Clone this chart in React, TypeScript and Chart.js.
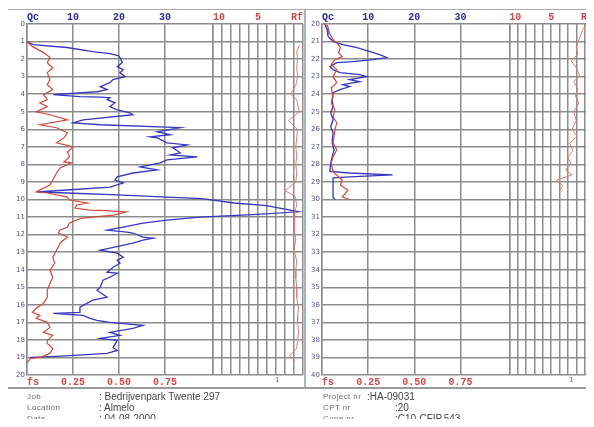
import React, { useEffect, useRef } from "react";
import { Chart, registerables } from "chart.js";
Chart.register(...registerables);

// ---------- data (depth in m, Qc in MPa, fs in MPa, Rf in %) ----------
const leftQcDepth = [1.0, 1.17, 1.34, 1.57, 1.69, 1.8, 1.91, 2.2, 2.43, 2.6, 2.77, 3.0, 3.17, 3.34, 3.57, 3.74, 3.86, 4.03, 4.14, 4.17, 4.2, 4.31, 4.49, 4.71, 4.89, 5.06, 5.17, 5.46, 5.63, 5.74, 5.91, 6.14, 6.31, 6.43, 6.49, 6.77, 6.89, 7.06, 7.34, 7.46, 7.57, 7.74, 7.91, 8.14, 8.31, 8.49, 8.71, 8.89, 9.06, 9.29, 9.46, 9.57, 9.63, 9.74, 9.86, 9.95, 10.2, 10.35, 10.55, 10.7, 10.85, 11.0, 11.17, 11.34, 11.57, 11.74, 11.86, 11.91, 12.14, 12.2, 12.31, 12.49, 12.77, 12.89, 13.06, 13.29, 13.46, 13.63, 13.86, 14.14, 14.2, 14.43, 14.6, 15.0, 15.17, 15.57, 15.74, 16.14, 16.43, 16.49, 16.6, 16.77, 16.89, 17.0, 17.17, 17.34, 17.57, 17.74, 17.91, 18.03, 18.43, 18.6, 18.77, 18.94, 19.0];
const leftQc = [0, 1.3, 8.7, 14.3, 18.0, 19.8, 20.2, 20.7, 19.6, 20.9, 20.2, 21.3, 18.7, 18.0, 15.9, 17.4, 15.2, 5.7, 11.5, 15.9, 18.0, 17.4, 19.1, 18.0, 19.6, 22.4, 23.0, 12.2, 10.0, 15.9, 33.3, 28.3, 31.1, 26.7, 28.3, 30.4, 34.8, 31.7, 33.3, 31.1, 37.0, 30.4, 28.9, 24.6, 28.3, 23.0, 19.6, 19.1, 20.9, 18.0, 8.7, 2.2, 8.7, 19.6, 30.4, 38.0, 45.0, 52.0, 56.0, 59.0, 50.0, 37.6, 30.4, 25.2, 20.9, 17.4, 21.7, 23.0, 25.2, 27.4, 25.2, 23.0, 18.0, 15.9, 19.6, 20.9, 19.6, 20.2, 18.7, 17.4, 19.6, 18.0, 16.5, 15.9, 15.2, 17.4, 14.3, 11.5, 11.5, 5.7, 12.2, 13.7, 15.2, 18.0, 25.2, 23.0, 18.0, 20.2, 15.9, 19.6, 18.7, 19.6, 17.4, 6.5, 0.7];

const leftFsDepth = [1.0, 1.29, 1.63, 1.91, 2.2, 2.49, 2.77, 3.17, 3.46, 3.74, 4.03, 4.31, 4.49, 4.71, 5.0, 5.17, 5.46, 5.74, 5.91, 6.2, 6.49, 6.77, 7.0, 7.29, 7.57, 7.86, 7.91, 8.2, 8.49, 8.89, 9.17, 9.34, 9.57, 9.63, 9.86, 10.03, 10.2, 10.31, 10.49, 10.6, 10.63, 10.69, 10.71, 10.89, 11.06, 11.17, 11.34, 11.57, 11.74, 11.91, 12.14, 12.31, 12.49, 12.89, 13.29, 13.63, 14.03, 14.43, 14.77, 15.17, 15.57, 15.91, 16.2, 16.43, 16.6, 16.77, 17.0, 17.29, 17.57, 17.74, 18.03, 18.2, 18.49, 18.77, 19.0, 19.06, 19.29];
const leftFs = [0, 0.03, 0.09, 0.125, 0.11, 0.14, 0.11, 0.125, 0.11, 0.14, 0.09, 0.11, 0.07, 0.11, 0.05, 0.125, 0.22, 0.07, 0.16, 0.22, 0.2, 0.16, 0.25, 0.22, 0.23, 0.2, 0.24, 0.18, 0.16, 0.14, 0.125, 0.09, 0.05, 0.11, 0.22, 0.23, 0.33, 0.27, 0.26, 0.34, 0.43, 0.51, 0.54, 0.47, 0.3, 0.27, 0.23, 0.22, 0.18, 0.17, 0.22, 0.2, 0.18, 0.16, 0.14, 0.15, 0.125, 0.14, 0.125, 0.11, 0.11, 0.09, 0.05, 0.03, 0.07, 0.05, 0.11, 0.125, 0.09, 0.14, 0.11, 0.11, 0.14, 0.125, 0.07, 0.02, 0];

const leftRfDepth = [1.2, 1.6, 2.0, 2.5, 3.0, 3.5, 4.0, 4.3, 5.0, 5.5, 6.0, 6.5, 7.0, 7.5, 8.0, 8.5, 9.0, 9.5, 9.8, 10.3, 10.7, 11.2, 11.7, 12.3, 12.9, 13.5, 14.0, 14.5, 15.0, 15.6, 16.2, 16.6, 17.0, 17.5, 18.0, 18.5, 18.9, 19.2];
const leftRf = [0.4, 0.7, 0.6, 0.7, 0.6, 0.8, 1.4, 0.7, 0.4, 1.6, 0.6, 0.7, 0.8, 0.7, 0.8, 0.7, 0.8, 2.0, 0.9, 0.7, 0.9, 0.9, 1.0, 0.8, 1.0, 0.7, 0.8, 0.8, 0.7, 0.7, 0.5, 0.6, 0.6, 0.5, 0.6, 0.7, 1.5, 0.9];

const rightQcDepth = [20.0, 20.3, 20.7, 21.0, 21.17, 21.34, 21.57, 21.74, 21.91, 22.03, 22.14, 22.2, 22.43, 22.6, 22.77, 22.89, 23.0, 23.17, 23.29, 23.46, 23.57, 23.74, 23.91, 24.3, 24.7, 25.06, 25.46, 25.86, 26.2, 26.77, 27.17, 27.57, 27.91, 28.4, 28.49, 28.6, 28.71, 28.77, 29.06, 29.86, 30.0];
const rightQc = [0.6, 1.1, 1.3, 2.4, 4.5, 7.6, 10.4, 12.5, 14.0, 11.0, 6.7, 3.2, 1.7, 2.4, 3.9, 8.2, 9.7, 6.0, 8.2, 4.5, 6.0, 3.9, 2.4, 2.2, 2.4, 1.9, 2.4, 1.9, 2.4, 2.2, 2.6, 2.2, 1.9, 1.7, 6.0, 15.3, 6.0, 2.4, 2.4, 2.4, 2.8];

const rightFsDepth = [20.0, 20.1, 20.5, 20.9, 21.06, 21.34, 21.63, 21.86, 22.03, 22.31, 22.6, 23.0, 23.34, 23.63, 24.14, 24.49, 24.89, 25.29, 25.63, 26.03, 26.77, 27.17, 27.57, 27.91, 28.43, 28.89, 29.17, 29.46, 29.86, 30.0];
const rightFs = [0.01, 0.03, 0.04, 0.06, 0.08, 0.1, 0.09, 0.11, 0.07, 0.05, 0.08, 0.06, 0.08, 0.05, 0.06, 0.05, 0.07, 0.06, 0.08, 0.07, 0.06, 0.08, 0.06, 0.05, 0.06, 0.11, 0.1, 0.14, 0.11, 0.15];

const rightRfDepth = [20.0, 20.4, 20.8, 21.3, 21.7, 22.1, 22.5, 22.9, 23.3, 23.7, 24.1, 24.5, 25.0, 25.5, 26.0, 26.4, 26.8, 27.2, 27.6, 28.0, 28.3, 28.6, 28.9, 29.2, 29.5];
const rightRf = [0.8, 1.3, 1.6, 2.0, 1.8, 2.6, 2.0, 1.6, 2.3, 1.8, 2.1, 1.7, 2.3, 2.0, 2.5, 1.9, 2.8, 2.4, 3.0, 2.6, 3.3, 2.5, 4.4, 3.6, 4.0];

// ---------- tick labels ----------
const qcTickValues = [0, 10, 20, 30];
const qcTickLabels = ["Qc", "10", "20", "30"];
const rfGridValues = [0, 1, 2, 3, 4, 5, 6, 7, 8, 9, 10];
const rfTickLabels: Record<number, string> = { 10: "10", 5: "5", 0: "Rf" };
const fsTickValues = [0, 0.25, 0.5, 0.75];
const fsTickLabels = ["fs", "0.25", "0.50", "0.75"];
const leftDepthTicks = [0, 1, 2, 3, 4, 5, 6, 7, 8, 9, 10, 11, 12, 13, 14, 15, 16, 17, 18, 19, 20];
const rightDepthTicks = [20, 21, 22, 23, 24, 25, 26, 27, 28, 29, 30, 31, 32, 33, 34, 35, 36, 37, 38, 39, 40];

const BLUE = "#3636c0";
const RED = "#cf4a3c";
const PINK = "#e07a7a";
const GRID = "#8c8c8c";

function pts(depth: number[], vals: number[]) {
  return depth.map((d, i) => ({ x: vals[i], y: d }));
}

type PanelSpec = {
  left: number;
  width: number;
  yWidth: number;
  padRight: number;
  qcWeight: number;
  rfWeight: number;
  qcMax: number;
  incMax: number;
  depthTicks: number[];
  qcD: number[]; qc: number[];
  fsD: number[]; fs: number[];
  rfD: number[]; rf: number[];
};

function Panel({ spec }: { spec: PanelSpec }) {
  const ref = useRef<HTMLCanvasElement>(null);
  useEffect(() => {
    const s = spec;
    const tickFont = { family: "Liberation Mono", size: 10, weight: "bold" as const };
    const chart = new Chart(ref.current!, {
      type: "scatter",
      data: {
        datasets: [
          { data: pts(s.rfD, s.rf), xAxisID: "rf", yAxisID: "y", showLine: true, borderColor: PINK, borderWidth: 1, pointRadius: 0, clip: false },
          { data: pts(s.fsD, s.fs), xAxisID: "fs", yAxisID: "y", showLine: true, borderColor: RED, borderWidth: 1.2, pointRadius: 0, clip: false },
          { data: pts(s.qcD, s.qc), xAxisID: "qc", yAxisID: "y", showLine: true, borderColor: BLUE, borderWidth: 1.3, pointRadius: 0, clip: false },
        ],
      },
      options: {
        animation: false,
        responsive: false,
        layout: { padding: { left: 0, right: s.padRight, top: 0, bottom: 0 } },
        plugins: { legend: { display: false }, tooltip: { enabled: false } },
        scales: {
          y: {
            type: "linear",
            position: "left",
            reverse: true,
            min: s.depthTicks[0],
            max: s.depthTicks[s.depthTicks.length - 1],
            afterBuildTicks: (sc: any) => { sc.ticks = s.depthTicks.map((v) => ({ value: v })); },
            afterFit: (sc: any) => { sc.width = s.yWidth; },
            ticks: { autoSkip: false, padding: 2, color: "#55557a", font: { family: "DejaVu Sans", size: 7 }, callback: (v: any) => String(v) },
            grid: { color: GRID, lineWidth: 1.5, drawTicks: false },
            border: { display: true, color: GRID, width: 1.5 },
          },
          // top stack is laid out in reverse declaration order: declare Rf first so Qc ends up on the left
          rf: {
            type: "linear",
            position: "top",
            stack: "top",
            stackWeight: s.rfWeight,
            min: 0,
            max: 10,
            reverse: true,
            afterBuildTicks: (sc: any) => { sc.ticks = rfGridValues.map((v) => ({ value: v })); },
            afterFit: (sc: any) => { sc.height = 14; },
            ticks: {
              autoSkip: false, maxRotation: 0, padding: 1, align: "inner", color: "#d04848", font: tickFont,
              callback: (v: any) => rfTickLabels[v] ?? "",
            },
            grid: { color: GRID, lineWidth: 1.5, drawTicks: false },
            border: { display: false },
          },
          qc: {
            type: "linear",
            position: "top",
            stack: "top",
            stackWeight: s.qcWeight,
            min: 0,
            max: s.qcMax,
            afterBuildTicks: (sc: any) => { sc.ticks = [...qcTickValues, s.qcMax].map((v) => ({ value: v })); },
            afterFit: (sc: any) => { sc.height = 14; },
            ticks: {
              autoSkip: false, maxRotation: 0, padding: 1, align: "inner", color: "#2b2b9c", font: tickFont,
              callback: (v: any) => { const i = qcTickValues.indexOf(v); return i >= 0 ? qcTickLabels[i] : ""; },
            },
            grid: { color: GRID, lineWidth: 1.5, drawTicks: false },
            border: { display: false },
          },
          fs: {
            type: "linear",
            position: "bottom",
            stack: "bot",
            stackWeight: s.qcWeight,
            min: 0,
            max: s.qcMax / 40,
            afterBuildTicks: (sc: any) => { sc.ticks = [...fsTickValues, s.qcMax / 40].map((v) => ({ value: v })); },
            afterFit: (sc: any) => { sc.height = 13; },
            ticks: {
              autoSkip: false, maxRotation: 0, padding: 1, align: "inner", color: "#d04848", font: tickFont,
              callback: (v: any) => { const i = fsTickValues.indexOf(v); return i >= 0 ? fsTickLabels[i] : ""; },
            },
            grid: { display: false, drawTicks: false },
            border: { display: false },
          },
          inc: {
            type: "linear",
            position: "bottom",
            stack: "bot",
            stackWeight: s.rfWeight,
            min: 0,
            max: s.incMax,
            afterBuildTicks: (sc: any) => { sc.ticks = [{ value: 1 }]; },
            afterFit: (sc: any) => { sc.height = 13; },
            ticks: { autoSkip: false, maxRotation: 0, padding: 1, color: "#666", font: { family: "DejaVu Sans", size: 7 }, callback: () => "1" },
            grid: { display: false, drawTicks: false },
            border: { display: false },
          },
        },
      },
    } as any);
    return () => chart.destroy();
  }, [spec]);
  return (
    <canvas
      ref={ref}
      width={spec.width}
      height={378}
      style={{ position: "absolute", left: spec.left, top: 10, width: spec.width, height: 378, background: "#fff" }}
    />
  );
}

const leftSpec: PanelSpec = {
  left: 8, width: 297, yWidth: 19, padRight: 2, qcWeight: 186, rfWeight: 90, qcMax: 40.4, incMax: 1.4,
  depthTicks: leftDepthTicks, qcD: leftQcDepth, qc: leftQc, fsD: leftFsDepth, fs: leftFs, rfD: leftRfDepth, rf: leftRf,
};
const rightSpec: PanelSpec = {
  left: 305, width: 289, yWidth: 17, padRight: 0, qcWeight: 188, rfWeight: 84, qcMax: 40.6, incMax: 1.35,
  depthTicks: rightDepthTicks, qcD: rightQcDepth, qc: rightQc, fsD: rightFsDepth, fs: rightFs, rfD: rightRfDepth, rf: rightRf,
};

const labStyle: React.CSSProperties = { position: "absolute", fontFamily: "Liberation Sans", fontSize: 8, letterSpacing: 0.4, color: "#707070", lineHeight: "10px", whiteSpace: "nowrap" };
const valStyle: React.CSSProperties = { position: "absolute", fontFamily: "Liberation Sans", fontSize: 10, color: "#444", lineHeight: "10px", whiteSpace: "nowrap" };

export default function App() {
  return (
    <div style={{ position: "relative", width: 594, height: 427, background: "#fff", overflow: "hidden", margin: -8 }}>
      <div style={{ position: "absolute", left: 7, top: 9, width: 587, height: 418, borderLeft: "1px solid #999", borderTop: "1px solid #aaa" }} />
      <Panel spec={leftSpec} />
      <Panel spec={rightSpec} />
      <div style={{ position: "absolute", left: 304, top: 10, width: 2, height: 378, background: "#a9b2c4" }} />
      <div style={{ position: "absolute", left: 7, top: 387, width: 587, height: 2, background: "#9a9a9a" }} />
      <div style={{ ...labStyle, left: 27, top: 392 }}>Job</div>
      <div style={{ ...valStyle, left: 99, top: 392 }}>: Bedrijvenpark Twente 297</div>
      <div style={{ ...labStyle, left: 27, top: 403 }}>Location</div>
      <div style={{ ...valStyle, left: 99, top: 403 }}>: Almelo</div>
      <div style={{ ...labStyle, left: 27, top: 414 }}>Date</div>
      <div style={{ ...valStyle, left: 99, top: 414 }}>: 04-08-2000</div>
      <div style={{ ...labStyle, left: 323, top: 392 }}>Project nr</div>
      <div style={{ ...valStyle, left: 367, top: 392 }}>:HA-09031</div>
      <div style={{ ...labStyle, left: 323, top: 403 }}>CPT nr</div>
      <div style={{ ...valStyle, left: 395, top: 403 }}>:20</div>
      <div style={{ ...labStyle, left: 323, top: 414 }}>Cone nr</div>
      <div style={{ ...valStyle, left: 395, top: 414 }}>:C10-CFIP.543</div>
    </div>
  );
}
